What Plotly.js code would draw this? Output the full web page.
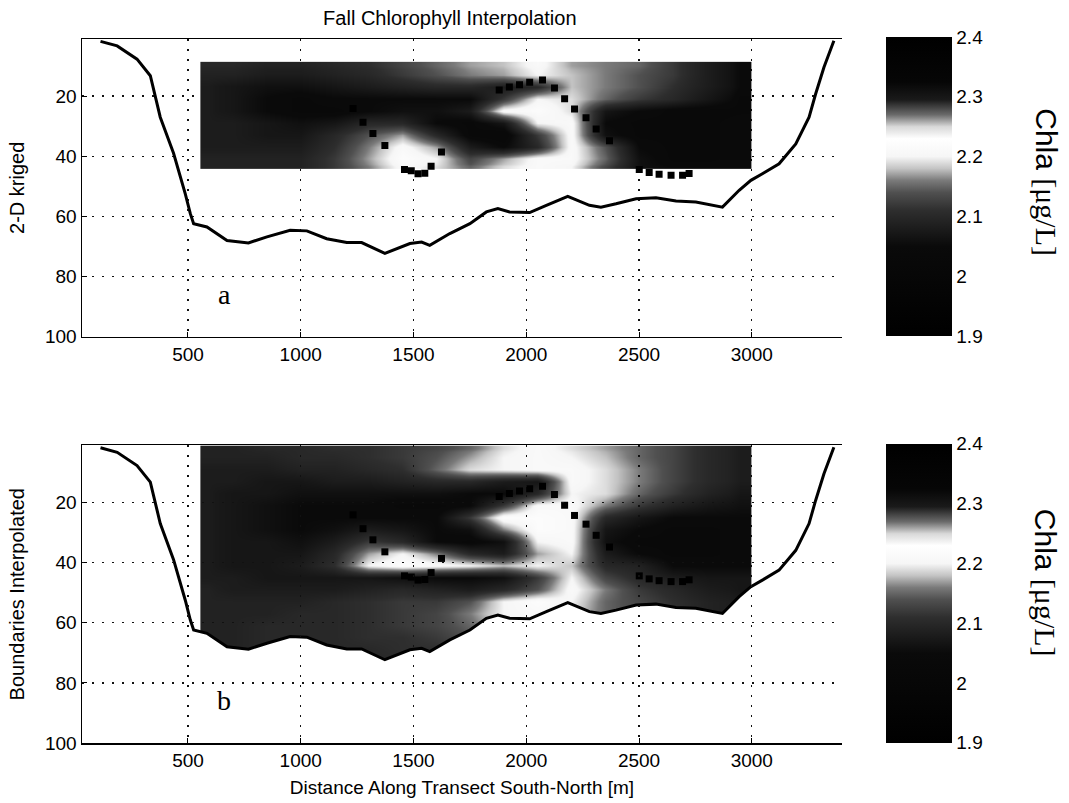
<!DOCTYPE html>
<html><head><meta charset="utf-8">
<script src="https://cdn.plot.ly/plotly-3.0.1.min.js"></script>
<style>html,body{margin:0;padding:0;background:#fff}#chart{width:1069px;height:803px}</style>
</head><body><div id="chart"></div>
<script>
// ---- data ----
// distance (m) cell edges of the interpolation grid
const DIST_EDGES = [555, 627, 775, 925, 1075, 1225, 1375, 1525, 1675, 1825, 1975, 2125, 2275, 2425, 2575, 2725, 2900, 3000];
// depth (m) cell edges, panel a (2-D kriged) and panel b (boundaries interpolated)
const DEPTH_EDGES_A = [8.6, 11, 15, 19, 23, 27, 31, 35, 39, 42.5, 44.2];
const DEPTH_EDGES_B = [1, 3, 7, 11, 15, 19, 23, 27, 31, 35, 39, 43, 47, 51, 55, 59, 63, 67, 71, 75];

// chlorophyll a (ug/L), rows = depth, columns = distance
const CHLA_A = [
  [2.10,2.10,2.09,2.09,2.10,2.11,2.13,2.15,2.17,2.18,2.21,2.17,2.16,2.15,2.12,2.08,2.05],
  [2.09,2.09,2.08,2.08,2.09,2.10,2.12,2.14,2.16,2.17,2.20,2.18,2.16,2.14,2.12,2.08,2.05],
  [2.08,2.07,2.06,2.06,2.07,2.08,2.09,2.10,2.10,2.08,2.10,2.18,2.16,2.14,2.11,2.08,2.05],
  [2.08,2.07,2.05,2.04,2.05,2.05,2.05,2.05,2.05,2.12,2.20,2.19,2.15,2.12,2.10,2.07,2.04],
  [2.08,2.07,2.05,2.04,2.04,2.05,2.06,2.06,2.08,2.21,2.22,2.19,2.07,2.05,2.04,2.04,2.04],
  [2.08,2.08,2.07,2.06,2.07,2.10,2.10,2.05,2.04,2.07,2.20,2.21,2.05,2.04,2.04,2.04,2.05],
  [2.08,2.08,2.07,2.07,2.10,2.14,2.17,2.10,2.04,2.03,2.12,2.21,2.06,2.04,2.04,2.04,2.05],
  [2.08,2.08,2.08,2.08,2.11,2.16,2.21,2.17,2.08,2.05,2.10,2.21,2.14,2.05,2.04,2.04,2.05],
  [2.09,2.09,2.09,2.09,2.12,2.17,2.22,2.20,2.13,2.17,2.21,2.21,2.15,2.06,2.04,2.04,2.05],
  [2.09,2.09,2.09,2.09,2.12,2.16,2.21,2.19,2.15,2.19,2.21,2.20,2.13,2.06,2.05,2.05,2.05]
];
const CHLA_B = [
  [2.09,2.09,2.10,2.10,2.11,2.11,2.12,2.13,2.15,2.19,2.21,2.19,2.17,2.15,2.13,2.10,2.08],
  [2.09,2.09,2.09,2.10,2.10,2.11,2.12,2.14,2.17,2.20,2.21,2.20,2.18,2.15,2.13,2.10,2.08],
  [2.08,2.08,2.08,2.09,2.09,2.10,2.11,2.15,2.19,2.20,2.21,2.21,2.19,2.16,2.13,2.10,2.08],
  [2.08,2.08,2.07,2.07,2.08,2.08,2.09,2.10,2.10,2.08,2.07,2.21,2.19,2.16,2.13,2.10,2.08],
  [2.08,2.07,2.07,2.06,2.06,2.06,2.06,2.06,2.05,2.05,2.10,2.20,2.19,2.15,2.12,2.09,2.07],
  [2.08,2.07,2.06,2.05,2.05,2.05,2.04,2.04,2.05,2.12,2.21,2.21,2.16,2.12,2.09,2.07,2.06],
  [2.08,2.07,2.06,2.05,2.05,2.05,2.05,2.05,2.12,2.22,2.22,2.21,2.10,2.07,2.05,2.05,2.05],
  [2.08,2.07,2.06,2.05,2.06,2.08,2.07,2.05,2.06,2.16,2.22,2.21,2.07,2.05,2.04,2.04,2.05],
  [2.08,2.07,2.07,2.06,2.08,2.12,2.10,2.05,2.04,2.06,2.20,2.21,2.06,2.04,2.04,2.04,2.05],
  [2.08,2.07,2.07,2.07,2.10,2.17,2.20,2.16,2.10,2.08,2.17,2.20,2.08,2.05,2.04,2.04,2.05],
  [2.08,2.07,2.07,2.08,2.11,2.20,2.22,2.21,2.20,2.18,2.20,2.18,2.10,2.09,2.05,2.05,2.05],
  [2.08,2.08,2.07,2.07,2.07,2.07,2.06,2.05,2.05,2.06,2.12,2.20,2.13,2.10,2.08,2.07,2.07],
  [2.09,2.08,2.08,2.08,2.08,2.09,2.10,2.09,2.08,2.10,2.14,2.21,2.16,2.12,2.10,2.08,2.07],
  [2.09,2.09,2.09,2.09,2.10,2.11,2.12,2.12,2.14,2.20,2.22,2.20,2.15,2.13,2.11,2.09,2.08],
  [2.09,2.09,2.09,2.10,2.10,2.11,2.12,2.13,2.16,2.20,2.21,2.19,2.15,2.13,2.11,2.09,2.08],
  [2.09,2.09,2.10,2.10,2.10,2.11,2.12,2.13,2.15,2.19,2.20,2.18,2.14,2.12,2.10,2.09,2.08],
  [2.09,2.09,2.10,2.10,2.10,2.11,2.11,2.12,2.14,2.18,2.19,2.17,2.13,2.11,2.10,2.09,2.08],
  [2.09,2.09,2.10,2.10,2.10,2.10,2.11,2.11,2.13,2.16,2.17,2.16,2.12,2.10,2.09,2.08,2.08],
  [2.09,2.09,2.09,2.10,2.10,2.10,2.10,2.11,2.12,2.14,2.15,2.14,2.11,2.10,2.09,2.08,2.08]
];

// lake bottom profile
const BATH_X = [112, 186, 274, 333, 377, 436, 488, 510, 525, 584, 673, 768, 850, 953, 1027, 1115, 1204, 1270, 1373, 1484, 1536, 1572, 1661, 1750, 1823, 1874, 1926, 2015, 2089, 2184, 2280, 2331, 2398, 2487, 2575, 2664, 2752, 2841, 2870, 2944, 2996, 3047, 3121, 3195, 3254, 3283, 3320, 3364];
const BATH_D = [1.8, 3.3, 7.7, 13.2, 27, 39, 52.5, 59, 62.4, 63.5, 68, 68.8, 66.8, 64.6, 64.8, 67.4, 68.7, 68.7, 72.3, 69, 68.5, 69.6, 65.7, 62.4, 58.5, 57.4, 58.5, 58.7, 56.3, 53.3, 56.3, 56.9, 55.8, 54.1, 53.8, 54.9, 55.2, 56.3, 56.9, 51.3, 48, 45.8, 42.5, 35.9, 27, 19.3, 10.4, 1.6];

// dark square marks inside the sections
const MARK_X = [1232, 1276, 1320, 1373, 1460, 1490, 1520, 1550, 1578, 1624, 1880, 1925, 1970, 2015, 2072, 2125, 2170, 2214, 2265, 2310, 2369, 2501, 2545, 2589, 2642, 2693, 2722];
const MARK_D = [24.1, 28.7, 32.4, 36.4, 44.4, 44.8, 45.8, 45.6, 43.3, 38.6, 18.0, 17.0, 16.2, 15.4, 14.6, 17.3, 20.9, 24.3, 27.2, 30.9, 34.8, 44.4, 45.4, 46.0, 46.3, 46.3, 45.7];

const X_TICKS = [500, 1000, 1500, 2000, 2500, 3000];
const Y_TICKS = [20, 40, 60, 80, 100];
const CBAR_TICKS = [1.9, 2, 2.1, 2.2, 2.3, 2.4];
const PANEL_LABELS = ['a', 'b'];
const PANEL_LABEL_X = 660, PANEL_LABEL_D = 86;

// ---- styling ----
const X_RANGE = [30, 3400];
const DEPTH_MAX = 100;
const Y_RANGE = [DEPTH_MAX, 1];
const ZMIN = 1.9, ZMAX = 2.4;
const FONT = 'Liberation Sans, Arial, sans-serif';
const SERIF = 'Liberation Serif, Times New Roman, serif';
const GRAYSCALE = [
  [0, '#000000'], [0.3, '#0a0a0a'], [0.36, '#1c1c1c'], [0.42, '#2e2e2e'],
  [0.48, '#505050'], [0.52, '#7a7a7a'], [0.56, '#c4c4c4'], [0.6, '#f6f6f6'],
  [0.66, '#ffffff'], [0.7, '#d8d8d8'], [0.74, '#6a6a6a'], [0.79, '#1a1a1a'],
  [0.85, '#060606'], [1, '#000000']
];
const DOM_A = [0.5771, 1], DOM_B = [0, 0.4227];

function cbar(yc) {
  return {
    x: 1.058, xanchor: 'left', y: yc, yanchor: 'middle',
    len: 299, lenmode: 'pixels', thickness: 66, thicknessmode: 'pixels',
    xpad: 0, ypad: 0, outlinewidth: 0, ticks: '',
    tickvals: CBAR_TICKS, tickfont: {family: FONT, size: 19, color: '#000'}
  };
}

const traces = [
  {type: 'heatmap', x: DIST_EDGES, y: DEPTH_EDGES_A, z: CHLA_A, xaxis: 'x', yaxis: 'y',
   zmin: ZMIN, zmax: ZMAX, zsmooth: 'best', colorscale: GRAYSCALE, colorbar: cbar(0.7907), hoverinfo: 'skip'},
  {type: 'scatter', mode: 'markers', x: MARK_X, y: MARK_D, xaxis: 'x', yaxis: 'y',
   marker: {symbol: 'square', size: 7, color: '#000'}, hoverinfo: 'skip'},
  {type: 'scatter', mode: 'lines', x: BATH_X, y: BATH_D, xaxis: 'x', yaxis: 'y',
   line: {color: '#000', width: 3}, hoverinfo: 'skip'},

  {type: 'heatmap', x: DIST_EDGES, y: DEPTH_EDGES_B, z: CHLA_B, xaxis: 'x2', yaxis: 'y2',
   zmin: ZMIN, zmax: ZMAX, zsmooth: 'best', colorscale: GRAYSCALE, colorbar: cbar(0.2128), hoverinfo: 'skip'},
  {type: 'scatter', mode: 'markers', x: MARK_X, y: MARK_D, xaxis: 'x2', yaxis: 'y2',
   marker: {symbol: 'square', size: 7, color: '#000'}, hoverinfo: 'skip'},
  // mask: nothing is interpolated below the lake bottom
  {type: 'scatter', mode: 'lines', xaxis: 'x2', yaxis: 'y2',
   x: BATH_X.concat([BATH_X[BATH_X.length - 1], BATH_X[0]]),
   y: BATH_D.concat([DEPTH_MAX, DEPTH_MAX]),
   fill: 'toself', fillcolor: '#ffffff', line: {width: 0, color: 'rgba(0,0,0,0)'}, hoverinfo: 'skip'},
  {type: 'scatter', mode: 'lines', x: BATH_X, y: BATH_D, xaxis: 'x2', yaxis: 'y2',
   line: {color: '#000', width: 3}, hoverinfo: 'skip'},
  // empty trace so that the grid overlay of panel b is drawn
  {type: 'scatter', mode: 'markers', x: [], y: [], xaxis: 'x3', yaxis: 'y3', hoverinfo: 'skip'}
];

const gridStyle = {showgrid: true, gridcolor: '#111', gridwidth: 1.3, griddash: '2px,8px'};
const tickStyle = {ticks: 'inside', ticklen: 5, tickcolor: '#000', tickwidth: 1,
  tickfont: {family: FONT, size: 19, color: '#000'}, zeroline: false};

const layout = {
  width: 1069, height: 803,
  margin: {l: 82, r: 227, t: 39, b: 60},
  paper_bgcolor: '#ffffff', plot_bgcolor: 'rgba(0,0,0,0)',
  showlegend: false,
  title: {text: 'Fall Chlorophyll Interpolation', xref: 'paper', x: 0.484, xanchor: 'center',
          yref: 'container', y: 0.978, yanchor: 'middle', font: {family: FONT, size: 20, color: '#000'}},
  xaxis: Object.assign({domain: [0, 1], anchor: 'y', range: X_RANGE, tickvals: X_TICKS,
    showline: true, mirror: true, linecolor: '#000', linewidth: 1.5}, gridStyle, tickStyle),
  yaxis: Object.assign({domain: DOM_A, anchor: 'x', range: Y_RANGE, tickvals: Y_TICKS,
    showline: true, linecolor: '#000', linewidth: 1.5,
    title: {text: '2-D kriged', font: {family: FONT, size: 20, color: '#000'}, standoff: 15}}, gridStyle, tickStyle),
  xaxis2: Object.assign({domain: [0, 1], anchor: 'y2', range: X_RANGE, tickvals: X_TICKS,
    showline: true, mirror: true, linecolor: '#000', linewidth: 1.5, showgrid: false,
    title: {text: 'Distance Along Transect South-North [m]', font: {family: FONT, size: 19, color: '#000'}, standoff: 10}}, tickStyle),
  yaxis2: Object.assign({domain: DOM_B, anchor: 'x2', range: Y_RANGE, tickvals: Y_TICKS,
    showline: true, linecolor: '#000', linewidth: 1.5, showgrid: false,
    title: {text: 'Boundaries Interpolated', font: {family: FONT, size: 20, color: '#000'}, standoff: 15}}, tickStyle),
  // grid for panel b drawn above its masked section
  xaxis3: Object.assign({domain: [0, 1], anchor: 'y3', range: X_RANGE, tickvals: X_TICKS,
    showticklabels: false, ticks: '', showline: false, zeroline: false}, gridStyle),
  yaxis3: Object.assign({domain: DOM_B, anchor: 'x3', range: Y_RANGE, tickvals: Y_TICKS,
    showticklabels: false, ticks: '', showline: false, zeroline: false}, gridStyle),
  annotations: [
    {text: PANEL_LABELS[0], xref: 'x', yref: 'y', x: PANEL_LABEL_X, y: PANEL_LABEL_D, showarrow: false,
     font: {family: SERIF, size: 28, color: '#000'}},
    {text: PANEL_LABELS[1], xref: 'x2', yref: 'y2', x: PANEL_LABEL_X, y: PANEL_LABEL_D, showarrow: false,
     font: {family: SERIF, size: 28, color: '#000'}},
    {text: 'Chla <span style="font-family:Liberation Serif">[μg/L]</span>', xref: 'paper', yref: 'paper',
     x: 1.268, y: 0.797, xanchor: 'center', yanchor: 'middle', textangle: 90, showarrow: false,
     font: {family: FONT, size: 30, color: '#000'}},
    {text: 'Chla <span style="font-family:Liberation Serif">[μg/L]</span>', xref: 'paper', yref: 'paper',
     x: 1.268, y: 0.228, xanchor: 'center', yanchor: 'middle', textangle: 90, showarrow: false,
     font: {family: FONT, size: 30, color: '#000'}}
  ]
};

Plotly.newPlot('chart', traces, layout, {staticPlot: true, displayModeBar: false});
</script>
</body></html>
